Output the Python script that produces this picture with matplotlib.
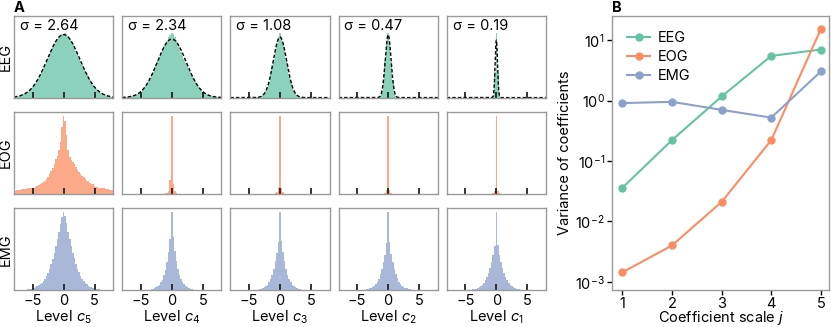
import numpy as np
import matplotlib.pyplot as plt
from matplotlib.ticker import NullLocator

plt.rcParams['font.family'] = ['Inter', 'DejaVu Sans']
plt.rcParams['font.size'] = 10
plt.rcParams['mathtext.fontset'] = 'custom'
plt.rcParams['mathtext.rm'] = 'Inter'
plt.rcParams['mathtext.it'] = 'Inter:italic'

# ___ DATA ___
signals = ['EEG', 'EOG', 'EMG']
colors = {'EEG': '#66c2a5', 'EOG': '#fc8d62', 'EMG': '#8da0cb'}
levels = [5, 4, 3, 2, 1]
eeg_sigma = [2.64, 2.34, 1.08, 0.47, 0.19]

# histogram bins of width 0.25 centred on 0 (heights relative, EEG relative to gaussian peak = 100)
BIN_WIDTH = 0.25
bin_centers = np.arange(-8, 8 + BIN_WIDTH / 2, BIN_WIDTH)

eeg_c5 = [1.0, 1.4, 1.7, 2.4, 3.1, 3.7, 4.9, 6.0, 7.7, 9.4, 11.2, 14.0, 16.5, 19.9, 23.1, 27.6,
          31.5, 36.8, 41.2, 47.2, 52.1, 58.4, 63.6, 69.8, 75.3, 80.0, 85.6, 89.1, 93.7, 96.4, 98.9, 100.8,
          101.5,
          102.3, 99.1, 97.2, 93.5, 89.0, 85.4, 80.1, 74.6, 69.7, 63.5, 58.3, 52.0, 47.1, 41.3, 36.7, 31.4,
          27.5, 23.2, 20.0, 16.4, 13.9, 11.5, 9.2, 7.5, 6.2, 4.7, 3.9, 2.9, 2.4, 1.7, 1.4, 0.9]
eeg_c4 = [0.3, 0.4, 0.6, 0.9, 1.1, 1.5, 2.2, 2.8, 3.8, 4.8, 6.4, 8.0, 10.3, 12.6, 15.8, 19.4,
          23.0, 27.9, 32.5, 38.4, 44.3, 50.6, 57.2, 63.8, 70.1, 76.5, 82.3, 87.9, 93.0, 97.5, 103.0, 107.5,
          110.2,
          108.0, 104.2, 98.1, 92.0, 85.9, 78.8, 71.9, 65.8, 59.6, 54.1, 48.9, 43.2, 37.8, 32.4, 27.6, 23.1,
          19.3, 15.6, 12.8, 10.1, 8.2, 6.2, 5.0, 3.6, 2.9, 2.0, 1.6, 1.1, 0.8, 0.6, 0.4, 0.3]
eeg_c3 = [0.1, 0.2, 0.5, 1.1, 2.2, 3.8, 7.0, 11.2, 18.1, 26.5, 37.6, 50.6, 64.4, 78.0, 90.3, 100.8,
          106.5,
          100.2, 89.4, 77.9, 64.8, 51.5, 38.4, 26.7, 17.8, 11.5, 6.8, 3.9, 2.0, 1.1, 0.5, 0.2, 0.1]
eeg_c2 = [0.1, 0.6, 2.9, 10.6, 28.3, 57.5, 88.0, 102.5, 86.1, 56.2, 27.6, 10.2, 2.8, 0.6, 0.1]
eeg_c1 = [0.1, 3.3, 44.0, 112.0, 42.5, 3.0, 0.1]

eog_c5 = [4, 4, 5, 5, 5, 6, 6, 6, 6, 7, 7, 7, 8, 8, 9, 10,
          11, 12, 14, 15, 17, 19, 22, 25, 29, 33, 38, 44, 49, 56, 66, 85,
          100,
          93, 75, 56, 47, 43, 41, 38, 34, 31, 28, 25, 23, 21, 19, 17, 16,
          14, 13, 12, 10, 9, 9, 8, 8, 7, 7, 6, 6, 6, 5, 5, 5]
eog_c4 = [0.5, 1.5, 3.5, 18.0, 100, 13.0, 3.0, 1.2, 0.4]
eog_c3 = [0.5, 2.5, 9.0, 100, 8.0, 2.0, 0.4]
eog_c2 = [1.0, 5.0, 100, 4.5, 0.8]
eog_c1 = [0.5, 3.5, 100, 3.0, 0.5]

emg_c5 = [0.1, 0.1, 0.2, 0.2, 0.3, 0.3, 0.4, 0.5, 0.7, 0.9, 1.2, 1.6, 2.1, 2.7, 3.5, 4.6,
          5.9, 7.4, 9.4, 11.8, 14.6, 18.2, 22.4, 27.2, 33.0, 39.5, 47.5, 56.0, 65.0, 74.5, 84.5, 93.5,
          100,
          94.5, 85.5, 75.0, 65.5, 56.5, 48.0, 40.5, 33.5, 27.5, 22.5, 18.3, 14.7, 11.7, 9.3, 7.3, 5.8,
          4.5, 3.5, 2.7, 2.1, 1.6, 1.2, 0.9, 0.7, 0.5, 0.4, 0.3, 0.2, 0.2, 0.1, 0.1, 0.1]
emg_c4 = [0.3, 0.5, 0.7, 1.1, 1.7, 2.5, 3.5, 5.0, 7.0, 9.8, 13.5, 19.0, 26.0, 36.0, 49.0, 66.0,
          100,
          68.0, 50.5, 37.0, 27.0, 19.5, 14.0, 10.0, 7.2, 5.1, 3.6, 2.5, 1.7, 1.1, 0.7, 0.5, 0.3]
emg_c3 = [0.2, 0.4, 0.6, 1.0, 1.5, 2.3, 3.4, 4.9, 7.0, 10.0, 14.0, 19.5, 27.0, 37.0, 48.0, 62.0,
          100,
          63.0, 49.0, 37.5, 27.5, 19.8, 14.2, 10.1, 7.1, 5.0, 3.5, 2.4, 1.6, 1.0, 0.6, 0.4, 0.2]
emg_c2 = [0.4, 0.6, 0.9, 1.4, 2.0, 2.9, 4.1, 5.7, 7.9, 10.8, 14.7, 20.0, 27.0, 35.5, 45.5, 60.0,
          100,
          61.0, 46.0, 36.0, 27.5, 20.5, 15.0, 10.9, 7.9, 5.6, 4.0, 2.8, 2.0, 1.4, 0.9, 0.6, 0.4]
emg_c1 = [0.6, 0.9, 1.3, 1.8, 2.6, 3.6, 5.0, 6.8, 9.2, 12.3, 16.4, 21.5, 28.0, 35.5, 44.5, 57.0,
          100,
          58.0, 45.0, 36.0, 28.5, 22.0, 16.8, 12.6, 9.3, 6.9, 5.0, 3.6, 2.6, 1.8, 1.3, 0.9, 0.6]

hists = {
    'EEG': [eeg_c5, eeg_c4, eeg_c3, eeg_c2, eeg_c1],
    'EOG': [eog_c5, eog_c4, eog_c3, eog_c2, eog_c1],
    'EMG': [emg_c5, emg_c4, emg_c3, emg_c2, emg_c1],
}

# panel B: variance per coefficient scale
scales = [1, 2, 3, 4, 5]
var_eeg = [0.036, 0.221, 1.166, 5.476, 6.970]
var_eog = [0.00143, 0.0040, 0.021, 0.221, 15.3]
var_emg = [0.906, 0.95, 0.70, 0.52, 3.03]


def on_grid(vals):
    # put a centred list of bin heights onto the full bin grid
    full = np.zeros(len(bin_centers))
    k = len(vals) // 2
    mid = len(bin_centers) // 2
    full[mid - k:mid + k + 1] = vals
    return full


SPINE = '#9a9a9a'
fig = plt.figure(figsize=(8.31, 3.27), dpi=100)
gs = fig.add_gridspec(3, 5, left=0.0168, right=0.657, top=0.951, bottom=0.113,
                      wspace=0.09, hspace=0.18)

for r, sig in enumerate(signals):
    for c, lev in enumerate(levels):
        ax = fig.add_subplot(gs[r, c])
        h = on_grid(hists[sig][c])
        ax.bar(bin_centers, h, width=BIN_WIDTH, color=colors[sig], alpha=0.75, linewidth=0)
        if sig == 'EEG':
            s = eeg_sigma[c]
            xs = np.linspace(-8, 8, 600)
            ax.plot(xs, 100 * np.exp(-xs ** 2 / (2 * s ** 2)), color='k', lw=1, ls=(0, (2.5, 1.5)))
            ax.set_ylim(0, max(h) / 0.79)
            ax.text(0.06, 0.965, f'σ = {s:.2f}', transform=ax.transAxes, va='top', ha='left', fontsize=10.5)
        else:
            ax.set_ylim(0, max(h) * 1.045)
        ax.set_xlim(-8, 8)
        ax.set_xticks([-5, 0, 5])
        ax.set_yticks([])
        ax.tick_params(axis='x', direction='in', length=4, width=1.3, color='#222222',
                       labelbottom=(r == 2), labelsize=10.5, pad=3)
        for sp in ax.spines.values():
            sp.set_color(SPINE)
            sp.set_linewidth(1)
        if c == 0:
            pos = ax.get_position()
            fig.text(6 / 831, (pos.y0 + pos.y1) / 2, sig, rotation=90, ha='center', va='center',
                     fontsize=10.5)
        if r == 2:
            ax.set_xlabel(f'Level $c_{lev}$', fontsize=10.5, labelpad=0)

# ___ PANEL B ___
axb = fig.add_axes([0.737, 0.113, 0.261, 0.838])
axb.plot(scales, var_eeg, '-o', color=colors['EEG'], lw=1.5, ms=5, label='EEG')
axb.plot(scales, var_eog, '-o', color=colors['EOG'], lw=1.5, ms=5, label='EOG')
axb.plot(scales, var_emg, '-o', color=colors['EMG'], lw=1.5, ms=5, label='EMG')
axb.set_yscale('log')
axb.set_ylim(7.3e-4, 25)
axb.set_xlim(0.8, 5.17)
axb.set_xticks(scales)
axb.yaxis.set_minor_locator(NullLocator())
axb.tick_params(direction='out', length=3.5, width=1, labelsize=10.5)
axb.tick_params(axis='x', pad=1.5)
axb.tick_params(axis='y', pad=2)
for sp in axb.spines.values():
    sp.set_color(SPINE)
    sp.set_linewidth(1)
axb.set_xlabel('Coefficient scale $j$', fontsize=10.5, labelpad=-1.5)
axb.set_ylabel('Variance of coefficients', fontsize=10.5, labelpad=2)
axb.legend(loc='upper left', frameon=False, fontsize=10.5, handlelength=1.6,
           handletextpad=0.5, labelspacing=0.35, borderaxespad=0.6)

fig.text(14 / 831, 1 - 1 / 327, 'A', weight='bold', va='top', ha='left', fontsize=10.5)
fig.text(612 / 831, 1 - 1 / 327, 'B', weight='bold', va='top', ha='left', fontsize=10.5)

fig.savefig('out.png', dpi=100)
